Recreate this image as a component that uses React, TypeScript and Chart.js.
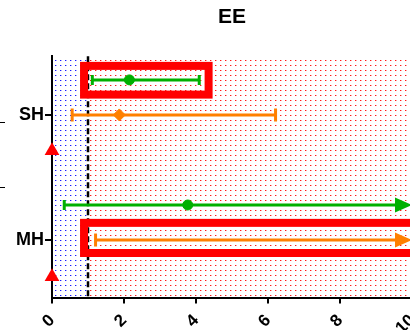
import React, { useEffect, useRef } from 'react';
import { Chart, registerables } from 'chart.js';

Chart.register(...registerables);

// ---- data ----
const title = 'EE';
const groups = ['SH', 'MH'];
const groupRows = [5.21, 1.64]; // y positions of the category rows
const xTicks = [0, 2, 4, 6, 8, 10];
const xMin = 0;
const xMax = 10;
const yMin = 0;
const yMax = 6.886;

// green series (circle centre, whiskers)
const greenRows = [6.21, 2.64];
const greenMid = [2.15, 3.77];
const greenLow = [1.12, 0.34];
const greenHigh = [4.09, 14]; // beyond axis -> arrow

// orange series (diamond centre, whiskers)
const orangeRows = [5.21, 1.64];
const orangeMid: (number | null)[] = [1.87, null];
const orangeLow = [0.56, 1.21];
const orangeHigh = [6.21, 14]; // beyond axis -> arrow

// red triangles on the y axis
const redRows = [4.19, 0.59];
const redValues = [0, 0];

// highlight boxes
const boxX0 = [0.89, 0.89];
const boxX1 = [4.35, 10.5];
const boxY0 = [5.79, 1.27];
const boxY1 = [6.61, 2.13];

// shaded regions / reference line
const threshold = 1;
const outerTickRows = [5.01, 3.16];

const GREEN = '#00b000';
const ORANGE = '#ff8000';
const RED = '#ff0000';
const FONT = "'Liberation Sans', Arial, sans-serif";

function makePattern(ctx: CanvasRenderingContext2D, dark: string, light: string) {
  const c = document.createElement('canvas');
  c.width = 5;
  c.height = 5;
  const t = c.getContext('2d')!;
  t.fillStyle = dark;
  t.fillRect(0, 0, 1, 1);
  t.fillStyle = light;
  t.fillRect(1, 0, 1, 1);
  return ctx.createPattern(c, 'repeat')!;
}

const decorPlugin = {
  id: 'decor',
  beforeDraw(chart: any) {
    const { ctx, chartArea: a, scales } = chart;
    const x = scales.x;
    const xt = x.getPixelForValue(threshold);
    ctx.save();
    ctx.fillStyle = makePattern(ctx, 'rgba(0,0,255,0.9)', 'rgba(80,80,255,0.45)');
    ctx.fillRect(a.left, a.top, xt - a.left, a.bottom - a.top);
    ctx.fillStyle = makePattern(ctx, 'rgba(255,0,0,0.9)', 'rgba(255,60,60,0.45)');
    ctx.fillRect(xt, a.top, a.right - xt, a.bottom - a.top);
    ctx.restore();
  },
  beforeDatasetsDraw(chart: any) {
    const { ctx, chartArea: a, scales } = chart;
    const x = scales.x;
    const y = scales.y;
    ctx.save();
    // outer group ticks
    ctx.strokeStyle = '#000';
    ctx.lineWidth = 1;
    outerTickRows.forEach((r) => {
      const yp = Math.round(y.getPixelForValue(r)) + 0.5;
      ctx.beginPath();
      ctx.moveTo(0, yp);
      ctx.lineTo(5, yp);
      ctx.stroke();
    });
    // dashed reference line
    const xt = x.getPixelForValue(threshold);
    ctx.setLineDash([6, 3]);
    ctx.lineWidth = 2.5;
    ctx.beginPath();
    ctx.moveTo(xt, a.top);
    ctx.lineTo(xt, a.bottom);
    ctx.stroke();
    ctx.setLineDash([]);
    // boxes
    ctx.strokeStyle = RED;
    ctx.lineWidth = 8;
    boxX0.forEach((_, i) => {
      const l = x.getPixelForValue(boxX0[i]);
      const r = x.getPixelForValue(boxX1[i]);
      const t = y.getPixelForValue(boxY1[i]);
      const b = y.getPixelForValue(boxY0[i]);
      ctx.strokeRect(l, t, r - l, b - t);
    });
    // whiskers
    const drawBar = (row: number, lo: number, hi: number, color: string, capH: number) => {
      const yp = y.getPixelForValue(row);
      const xl = x.getPixelForValue(lo);
      const arrow = hi > x.max;
      const xh = x.getPixelForValue(Math.min(hi, x.max));
      ctx.strokeStyle = color;
      ctx.fillStyle = color;
      ctx.lineWidth = 3;
      ctx.beginPath();
      ctx.moveTo(xl, yp);
      ctx.lineTo(arrow ? xh - 12 : xh, yp);
      ctx.stroke();
      ctx.beginPath();
      ctx.moveTo(xl, yp - capH / 2);
      ctx.lineTo(xl, yp + capH / 2);
      if (!arrow) {
        ctx.moveTo(xh, yp - capH / 2);
        ctx.lineTo(xh, yp + capH / 2);
      }
      ctx.stroke();
      if (arrow) {
        ctx.beginPath();
        ctx.moveTo(xh, yp);
        ctx.lineTo(xh - 17, yp - 7.5);
        ctx.lineTo(xh - 17, yp + 7.5);
        ctx.closePath();
        ctx.fill();
      }
    };
    greenRows.forEach((r, i) => drawBar(r, greenLow[i], greenHigh[i], GREEN, 10));
    orangeRows.forEach((r, i) => drawBar(r, orangeLow[i], orangeHigh[i], ORANGE, 13));
    ctx.restore();
  },
};

export default function App() {
  const ref = useRef<HTMLCanvasElement>(null);
  useEffect(() => {
    const canvas = ref.current!;
    const greenPts = greenRows.map((r, i) => ({ x: greenMid[i], y: r }));
    const orangePts = orangeRows
      .map((r, i) => ({ x: orangeMid[i], y: r }))
      .filter((p) => p.x !== null) as { x: number; y: number }[];
    const redPts = redRows.map((r, i) => ({ x: redValues[i], y: r }));
    const chart = new Chart(canvas, {
      type: 'scatter',
      data: {
        datasets: [
          {
            data: greenPts,
            pointStyle: 'circle',
            pointRadius: 5,
            backgroundColor: GREEN,
            borderColor: GREEN,
            borderWidth: 1,
          },
          {
            data: orangePts,
            pointStyle: 'rectRot',
            pointRadius: 6,
            backgroundColor: ORANGE,
            borderColor: ORANGE,
            borderWidth: 1,
          },
          {
            data: redPts,
            pointStyle: 'triangle',
            pointRadius: 8.5,
            backgroundColor: RED,
            borderColor: RED,
            borderWidth: 0,
            clip: false as any,
          },
        ],
      },
      options: {
        animation: false,
        responsive: false,
        devicePixelRatio: 1,
        layout: { padding: { left: 0, right: 18, top: 0, bottom: 0 } },
        plugins: {
          legend: { display: false },
          tooltip: { enabled: false },
          title: {
            display: true,
            text: title,
            fullSize: false,
            color: '#000',
            font: { family: FONT, size: 21, weight: 'bold' },
            padding: { top: 5, bottom: 26 },
          },
        },
        scales: {
          x: {
            type: 'linear',
            min: xMin,
            max: xMax,
            afterBuildTicks: (s: any) => {
              s.ticks = xTicks.map((v) => ({ value: v }));
            },
            afterFit: (s: any) => {
              s.height = 32.5;
              s.paddingLeft = 0;
              s.paddingRight = 0;
            },
            ticks: {
              color: '#000',
              font: { family: FONT, size: 17, weight: 'bold' },
              minRotation: 45,
              maxRotation: 45,
              padding: 7,
            },
            grid: {
              display: true,
              drawOnChartArea: false,
              drawTicks: true,
              tickLength: 6,
              color: '#000',
              lineWidth: 2,
            },
            border: { display: true, color: '#000', width: 2 },
          },
          y: {
            type: 'linear',
            min: yMin,
            max: yMax,
            afterBuildTicks: (s: any) => {
              s.ticks = groupRows.map((v) => ({ value: v }));
            },
            afterFit: (s: any) => {
              s.width = 52;
              s.paddingTop = 0;
              s.paddingBottom = 0;
            },
            ticks: {
              color: '#000',
              font: { family: FONT, size: 18, weight: 'bold' },
              padding: 1,
              callback: (_v: any, i: number) => groups[i],
            },
            grid: {
              display: true,
              drawOnChartArea: false,
              drawTicks: true,
              tickLength: 7,
              color: '#000',
              lineWidth: 2,
            },
            border: { display: true, color: '#000', width: 2 },
          },
        },
      },
      plugins: [decorPlugin],
    });
    return () => chart.destroy();
  }, []);
  return (
    <div
      style={{
        position: 'fixed',
        left: 0,
        top: 0,
        width: 410,
        height: 330,
        overflow: 'hidden',
        background: '#fff',
      }}
    >
      <canvas ref={ref} width={430} height={330} style={{ display: 'block' }} />
    </div>
  );
}
